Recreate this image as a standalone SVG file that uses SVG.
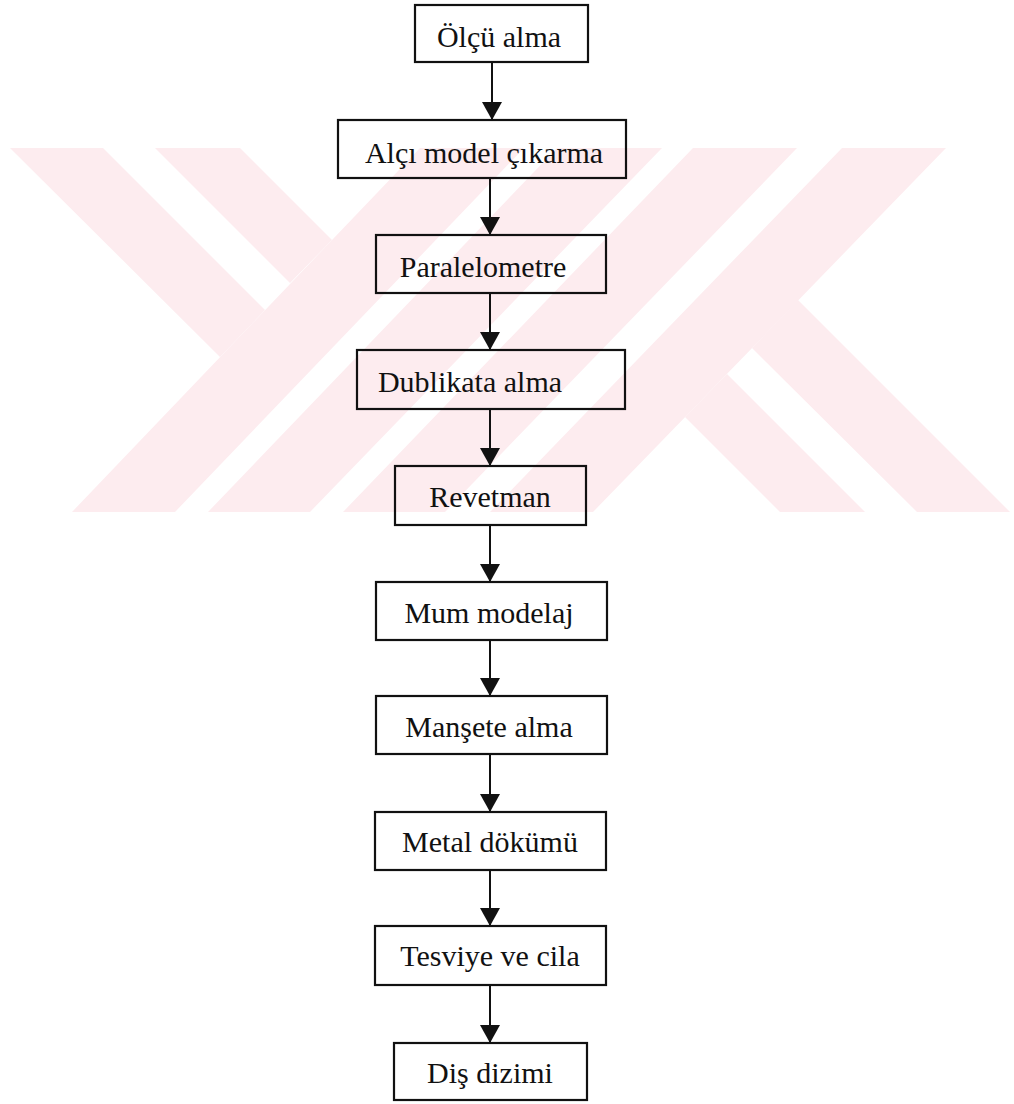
<svg xmlns="http://www.w3.org/2000/svg" width="1014" height="1104" viewBox="0 0 1014 1104">
<style>
.wm{fill:#fdecef;stroke:none}
.box{fill:none;stroke:#111;stroke-width:2.2}
.lbl{font-family:"Liberation Serif","Times New Roman",serif;font-size:30px;fill:#111;text-anchor:middle}
.con{stroke:#111;stroke-width:2;fill:none;marker-end:url(#ah)}
</style>
<defs>
<marker id="ah" viewBox="0 0 18 20" refX="18" refY="10" markerWidth="18" markerHeight="20" markerUnits="userSpaceOnUse" orient="auto">
<path d="M0,0 L18,10 L0,20 Z" fill="#111"/>
</marker>
</defs>
<rect width="1014" height="1104" fill="#ffffff"/>
<g id="watermark">
<polygon class="wm" points="10,148 103,148 265,310 220,357"/>
<polygon class="wm" points="155,148 240,148 332,240 290,283"/>
<polygon class="wm" points="420,148 524,148 175,512 72,512"/>
<polygon class="wm" points="557,148 662,148 310,512 208,512"/>
<polygon class="wm" points="693,148 797,148 445,512 343,512"/>
<polygon class="wm" points="842,148 946,148 593,512 490,512"/>
<polygon class="wm" points="727,374 685,417 780,512 865,512"/>
<polygon class="wm" points="798,300 752,348 917,512 1010,512"/>
</g>
<g id="connectors">
<line class="con" x1="492" y1="62" x2="492" y2="120"/>
<line class="con" x1="490" y1="178" x2="490" y2="235"/>
<line class="con" x1="490" y1="293" x2="490" y2="350"/>
<line class="con" x1="490" y1="409" x2="490" y2="466"/>
<line class="con" x1="490" y1="525" x2="490" y2="582"/>
<line class="con" x1="490" y1="640" x2="490" y2="696"/>
<line class="con" x1="490" y1="754" x2="490" y2="812"/>
<line class="con" x1="490" y1="870" x2="490" y2="926"/>
<line class="con" x1="490" y1="985" x2="490" y2="1043"/>
</g>
<g id="n1"><rect class="box" x="415" y="5" width="173" height="57"/><text class="lbl" x="499" y="47">Ölçü alma</text></g>
<g id="n2"><rect class="box" x="338" y="120" width="288" height="58"/><text class="lbl" x="484" y="163">Alçı model çıkarma</text></g>
<g id="n3"><rect class="box" x="376" y="235" width="230" height="58"/><text class="lbl" x="483" y="277">Paralelometre</text></g>
<g id="n4"><rect class="box" x="357" y="350" width="268" height="59"/><text class="lbl" x="470" y="392">Dublikata alma</text></g>
<g id="n5"><rect class="box" x="395" y="466" width="191" height="59"/><text class="lbl" x="490" y="507">Revetman</text></g>
<g id="n6"><rect class="box" x="376" y="582" width="231" height="58"/><text class="lbl" x="489" y="623">Mum modelaj</text></g>
<g id="n7"><rect class="box" x="376" y="696" width="231" height="58"/><text class="lbl" x="489" y="737">Manşete alma</text></g>
<g id="n8"><rect class="box" x="375" y="812" width="231" height="58"/><text class="lbl" x="490" y="852">Metal dökümü</text></g>
<g id="n9"><rect class="box" x="375" y="926" width="231" height="59"/><text class="lbl" x="490" y="966">Tesviye ve cila</text></g>
<g id="n10"><rect class="box" x="394" y="1043" width="193" height="57"/><text class="lbl" x="490" y="1083">Diş dizimi</text></g>
</svg>
